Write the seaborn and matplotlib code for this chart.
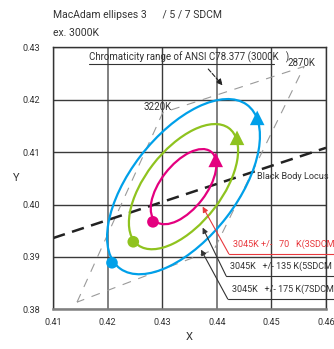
import matplotlib
matplotlib.use("Agg")
import matplotlib.pyplot as plt
from matplotlib.patches import Ellipse
import seaborn as sns
import pandas as pd

# ellipse data (3 / 5 / 7 SDCM around 3045K)
sdcm = [3, 5, 7]
ell_colors = ["#e4007f", "#8fc31f", "#00a0e9"]
ell_center = (0.4339, 0.4034)
ell_width = [0.0167, 0.0278, 0.0389]
ell_height = [0.0084, 0.0140, 0.0196]
ell_angle = [53.5, 53.5, 53.5]

# start (circle) and end (triangle) markers on each ellipse
start_x = [0.4283, 0.4247, 0.4208]
start_y = [0.3967, 0.3929, 0.3889]
end_x = [0.4398, 0.4437, 0.4474]
end_y = [0.4085, 0.4127, 0.4165]

# black body locus
bbl_x = [0.41, 0.46]
bbl_y = [0.3936, 0.4108]

# ANSI C78.377 3000K quadrangle
quad_x = [0.4144, 0.4301, 0.4560, 0.4395, 0.4144]
quad_y = [0.3814, 0.4175, 0.4263, 0.3914, 0.3814]

# callouts
call_text = ["3045K +/-   70   K(3SDCM", "3045K   +/- 135 K(5SDCM", "3045K   +/- 175 K(7SDCM"]
call_color = ["#e8383d", "#333333", "#333333"]
call_tip_x = [0.4374, 0.4374, 0.4371]
call_tip_y = [0.3996, 0.3956, 0.3914]
call_knee_x = [0.4422, 0.4417, 0.4420]
call_knee_y = [0.3906, 0.3864, 0.3820]

xticks = [0.41, 0.42, 0.43, 0.44, 0.45, 0.46]
yticks = [0.38, 0.39, 0.40, 0.41, 0.42, 0.43]

sns.set_theme(style="white")
plt.rcParams["font.family"] = ["Roboto", "DejaVu Sans"]

fig = plt.figure(figsize=(3.34, 3.49), dpi=100)
ax = fig.add_axes([0.1587, 0.1132, 0.8174, 0.7521])

ax.set_xlim(0.41, 0.46)
ax.set_ylim(0.38, 0.43)
ax.set_xticks(xticks)
ax.set_yticks(yticks)
ax.set_xticklabels([f"{v:.2f}" for v in xticks], fontsize=6.6, color="#333333")
ax.set_yticklabels([f"{v:.2f}" for v in yticks], fontsize=6.6, color="#333333")
ax.tick_params(length=0, pad=6)
ax.tick_params(axis="y", pad=9)

ax.grid(True, color="#3a3a3a", lw=1.0)
for i, gl in enumerate(ax.get_xgridlines()):
    if xticks[i] in (0.42, 0.44):
        gl.set_color("#808080")
        gl.set_linewidth(1.4)
ax.set_axisbelow(True)
for side in ["top", "right", "left"]:
    ax.spines[side].set_color("#333333")
    ax.spines[side].set_linewidth(1.0)
ax.spines["bottom"].set_color("#808080")
ax.spines["bottom"].set_linewidth(1.8)

# quadrangle
sns.lineplot(x=quad_x, y=quad_y, sort=False, ax=ax, color="#9a9a9a", lw=0.8,
             estimator=None)
ax.lines[-1].set_dashes((8, 7))

# black body locus
sns.lineplot(x=bbl_x, y=bbl_y, ax=ax, color="#222222", lw=1.8, estimator=None)
ax.lines[-1].set_dashes((5, 3))

for w, h, a, c in zip(ell_width, ell_height, ell_angle, ell_colors):
    ax.add_patch(Ellipse(ell_center, w, h, angle=a, fill=False, ec=c, lw=1.6, zorder=3))

df_s = pd.DataFrame({"x": start_x, "y": start_y, "sdcm": sdcm})
df_e = pd.DataFrame({"x": end_x, "y": end_y, "sdcm": sdcm})
pal = dict(zip(sdcm, ell_colors))
sns.scatterplot(data=df_s, x="x", y="y", hue="sdcm", palette=pal, s=70,
                marker="o", linewidth=0, legend=False, ax=ax, zorder=4)
sns.scatterplot(data=df_e, x="x", y="y", hue="sdcm", palette=pal, s=110,
                marker="^", linewidth=0, legend=False, ax=ax, zorder=4)

ax.text(0.4474, 0.4053, "Black Body Locus", fontsize=6.6, color="#333333", va="center")
ax.text(0.4292, 0.4186, "3220K", fontsize=7, color="#333333", va="center", ha="center")
ax.text(0.4555, 0.4270, "2870K", fontsize=7, color="#333333", va="center", ha="center")

# ANSI label with underline and dashed arrow
ax.text(0.4166, 0.4281, "Chromaticity range of ANSI C78.377 (3000K   )",
        fontsize=7, color="#333333", va="center")
ax.plot([0.4166, 0.4505], [0.4268, 0.4268], color="#333333", lw=0.8)
ax.annotate("", xy=(0.4414, 0.4223), xytext=(0.4381, 0.4262),
            arrowprops=dict(arrowstyle="-|>", color="#222222", lw=0.8, ls="--",
                            mutation_scale=9))

for t, c, tx, ty, kx, ky in zip(call_text, call_color, call_tip_x, call_tip_y,
                                call_knee_x, call_knee_y):
    ax.annotate("", xy=(tx, ty), xytext=(kx, ky),
                arrowprops=dict(arrowstyle="-|>", color=c, lw=0.8, mutation_scale=8,
                                shrinkA=0, shrinkB=0), zorder=5)
    ax.plot([kx, 0.4630], [ky, ky], color=c, lw=0.8, clip_on=False, zorder=5)
    ax.text(kx + 0.0008, ky + 0.0009, t, fontsize=6.5, color=c, va="bottom", clip_on=False)

ax.set_xlabel("X", fontsize=8, color="#333333", labelpad=4)
ax.set_ylabel("Y", fontsize=8, color="#333333", rotation=0, labelpad=5, va="center")

fig.text(0.159, 0.957, "MacAdam ellipses 3      / 5 / 7 SDCM", fontsize=7.5,
         color="#333333", va="center")
fig.text(0.159, 0.905, "ex. 3000K", fontsize=7.5, color="#333333", va="center")

plt.savefig("out.png", dpi=100)
